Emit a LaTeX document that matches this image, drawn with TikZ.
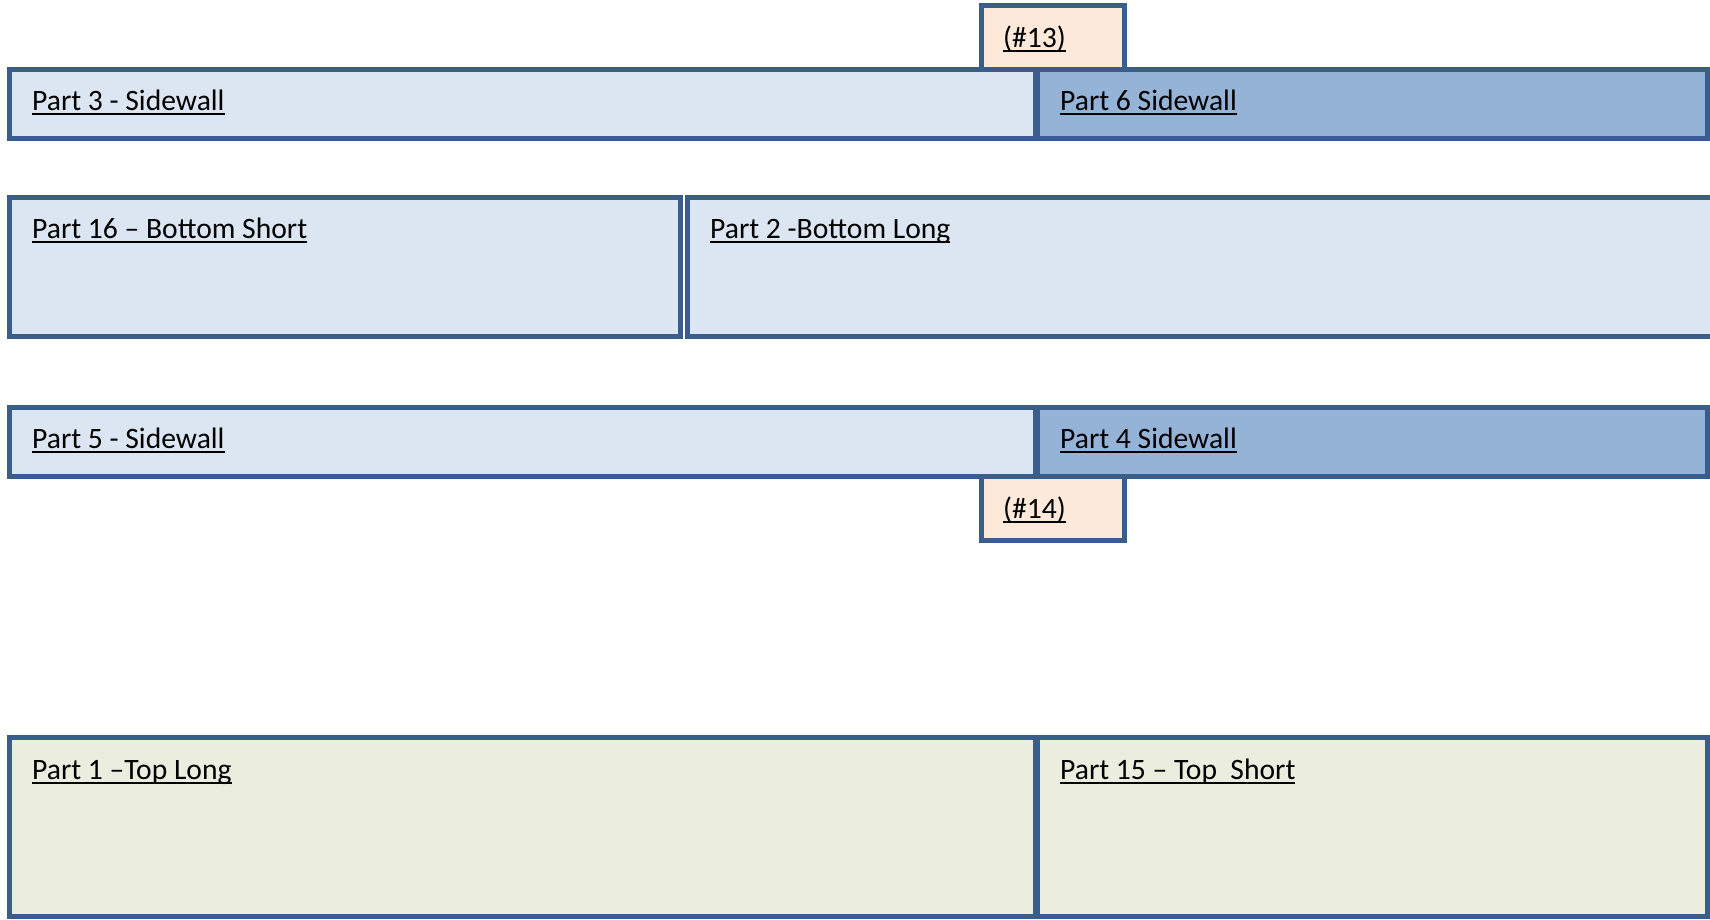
\documentclass[tikz,border=0pt]{standalone}
\usepackage{fontspec}
\setmainfont{Carlito}
\definecolor{edgeblue}{HTML}{3A5E8C}
\definecolor{paleblue}{HTML}{DCE6F2}
\definecolor{midblue}{HTML}{95B3D7}
\definecolor{palepeach}{HTML}{FDE9DA}
\definecolor{paleolive}{HTML}{EBEEDF}
% underline at a fixed depth below the baseline, as a word processor draws it
\newcommand\partul[1]{\setbox0\hbox{#1}\rlap{\rule[-5pt]{\wd0}{2pt}}\box0}
\begin{document}
\begin{tikzpicture}[x=1pt,y=-1pt,
  panel/.style={draw=edgeblue, line width=5pt},
  lbl/.style={anchor=base west, inner sep=0pt, font=\fontsize{29.6}{34}\selectfont}]
\useasboundingbox (0,0) rectangle (1710,919);

% tabs sit behind the sidewalls
\draw[panel, fill=palepeach] (981.5,5.5) rectangle (1124.5,72);
\draw[panel, fill=palepeach] (981.5,474) rectangle (1124.5,540.5);

% row 1: sidewalls 3 and 6
\draw[panel, fill=paleblue] (9.5,69.5) rectangle (1035.5,138.5);
\draw[panel, fill=midblue] (1037.5,69.5) rectangle (1707.5,138.5);

% row 2: bottom panels
\draw[panel, fill=paleblue] (9.5,197.5) rectangle (680.5,336.5);
\draw[panel, fill=paleblue] (687.5,197.5) rectangle (1725,336.5);

% row 3: sidewalls 5 and 4
\draw[panel, fill=paleblue] (9.5,407.5) rectangle (1035.5,476.5);
\draw[panel, fill=midblue] (1037.5,407.5) rectangle (1707.5,476.5);

% row 4: top panels
\draw[panel, fill=paleolive] (9.5,737.5) rectangle (1035.5,916.5);
\draw[panel, fill=paleolive] (1037.5,737.5) rectangle (1707.5,916.5);

% labels
\node[lbl] (t13) at (1003,47) {\partul{(\#13)}};
\node[lbl] (t3)  at (32,110)  {\partul{Part 3 - Sidewall}};
\node[lbl] (t6)  at (1060,110) {\partul{Part 6 Sidewall}};
\node[lbl] (t16) at (32,238)  {\partul{Part 16 – Bottom Short}};
\node[lbl] (t2)  at (710,238) {\partul{Part 2 -Bottom Long}};
\node[lbl] (t5)  at (32,448)  {\partul{Part 5 - Sidewall}};
\node[lbl] (t4)  at (1060,448) {\partul{Part 4 Sidewall}};
\node[lbl] (t14) at (1003,518) {\partul{(\#14)}};
\node[lbl] (t1)  at (32,779)  {\partul{Part 1 –Top Long}};
\node[lbl] (t15) at (1060,779) {\partul{Part 15 – Top~~Short}};
\end{tikzpicture}
\end{document}
